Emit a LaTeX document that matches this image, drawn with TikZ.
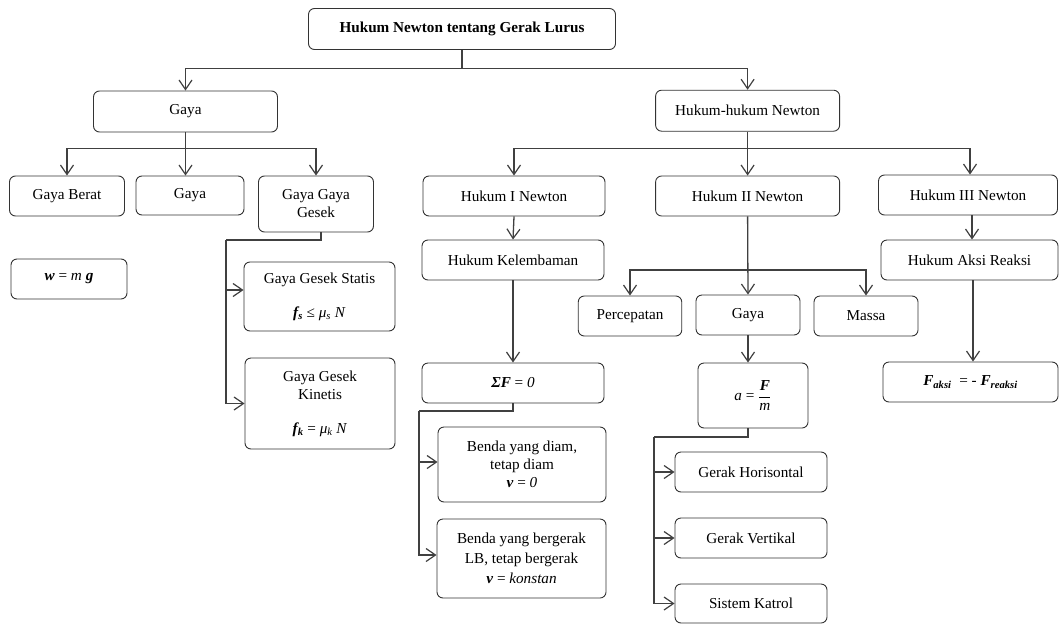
\documentclass[tikz,border=0pt]{standalone}
\usepackage{fontspec}
\setmainfont{Liberation Serif}
\usetikzlibrary{arrows.meta}
\newcommand{\bi}[1]{\textbf{\textit{#1}}}
\begin{document}
\begin{tikzpicture}[x=1pt,y=-1pt,
  box/.style={draw=black!80, line width=0.9pt, rounded corners=6pt, fill=white, align=center, inner sep=2pt, font=\fontsize{15.2}{18}\selectfont},
  sz/.style 2 args={minimum width=#1pt, minimum height=#2pt},
  conn/.style={draw=black!75, line width=1.3pt},
  arr/.style={conn, -{Straight Barb[length=9.5pt,width=13pt,line width=1.2pt]}}]
\useasboundingbox (0,0) rectangle (1059,624);

% nodes
\node[box, sz={307}{41}] (top) at (462,29) {\textbf{Hukum Newton tentang Gerak Lurus}};
\node[box, sz={184}{41}] (gaya) at (185.5,111.5) {Gaya};
\node[box, sz={184}{41}] (hhn) at (747.6,110.7) {Hukum-hukum Newton};
\node[box, sz={115}{40}] (berat) at (67,196) {Gaya Berat};
\node[box, sz={108}{39}] (gaya2) at (190,195.5) {Gaya};
\node[box, sz={115}{56}] (gesek) at (316,204) {Gaya Gaya\\Gesek};
\node[box, sz={116}{40}] (wmg) at (69,279) {\bi{w} = \textit{m} \bi{g}};
\node[box, sz={151}{69}] (statis) at (319.5,296.5) {Gaya Gesek Statis\\[16pt]\bi{f\textsubscript{s}} ≤ \textit{μ\textsubscript{s}} \textit{N}};
\node[box, sz={150}{91}] (kinetis) at (320,403.5) {Gaya Gesek\\Kinetis\\[16pt]\bi{f\textsubscript{k}} = \textit{μ\textsubscript{k}} \textit{N}};
\node[box, sz={182}{40}] (h1) at (514,196) {Hukum I Newton};
\node[box, sz={184}{40}] (h2) at (747.6,196) {Hukum II Newton};
\node[box, sz={179}{40}] (h3) at (968,195) {Hukum III Newton};
\node[box, sz={182}{40}] (kel) at (513,260) {Hukum Kelembaman};
\node[box, sz={182}{40}] (sigma) at (513,383) {\bi{ΣF} = \textit{0}};
\node[box, sz={168}{75}] (diam) at (522,464.5) {Benda yang diam,\\tetap diam\\\bi{v} = \textit{0}};
\node[box, sz={169}{79}, font=\fontsize{15.2}{20}\selectfont] (gerak) at (521.5,558.5) {Benda yang bergerak\\LB, tetap bergerak\\\bi{v} = \textit{konstan}};
\node[box, sz={103.5}{40}] (perc) at (630,316) {Percepatan};
\node[box, sz={104}{40}] (gayam) at (748,315) {Gaya};
\node[box, sz={104}{40}] (massa) at (866,316) {Massa};
\node[box, sz={110}{65}] (afm) at (753,395.5) {$\displaystyle\hbox{\textit{a} = }\frac{\hbox{\bi{F}}}{\hbox{\textit{m}}}$};
\node[box, sz={152}{40}] (hor) at (751,472) {Gerak Horisontal};
\node[box, sz={152}{40}] (vert) at (751,538) {Gerak Vertikal};
\node[box, sz={152}{39}] (kat) at (751,603.5) {Sistem Katrol};
\node[box, sz={177}{40}] (aksi) at (969.5,260) {Hukum Aksi Reaksi};
\node[box, sz={175}{40}] (faksi) at (970.5,382) {\bi{F\textsubscript{aksi}} \ = - \bi{F\textsubscript{reaksi}}};

% junctions
\coordinate (j1) at (462,68.6);
\coordinate (j2) at (185.5,148.7);
\coordinate (j3) at (226,240);
\coordinate (j4) at (747.6,148.5);
\coordinate (j5) at (748,270);
\coordinate (j6) at (419,411);
\coordinate (j7) at (654,437);

% connectors
\draw[conn] (top.south) -- (j1);
\draw[arr] (j1) -| (gaya.north);
\draw[arr] (j1) -| (hhn.north);

\draw[arr] (gaya.south) -- (gaya.south |- gaya2.north);
\draw[arr] (j2) -| (berat.north);
\draw[arr] (j2) -| (gesek.north);

\draw[conn] ([xshift=5pt]gesek.south) |- (j3);
\draw[arr] (j3) |- ([yshift=6.5pt]statis.west);
\draw[arr] (j3) |- (kinetis.west);

\draw[conn] (hhn.south) -- (j4);
\draw[arr] (j4) -| (h1.north);
\draw[arr] (j4) -- (h2.north);
\draw[arr] (j4) -| ([xshift=2pt]h3.north);

\draw[arr] (h1.south) -- (kel.north);
\draw[arr] (kel.south) -- (sigma.north);
\draw[conn] (sigma.south) |- (j6);
\draw[arr] (j6) |- ([yshift=2.5pt]diam.west);
\draw[arr] (j6) |- ([yshift=3.5pt]gerak.west);

\draw[arr] (h2.south) -- (gayam.north);
\draw[arr] (j5) -| (perc.north);
\draw[arr] (j5) -| (massa.north);
\draw[arr] (gayam.south) -- (gayam.south |- afm.north);
\draw[conn] (gayam.south |- afm.south) |- (j7);
\draw[arr] (j7) |- (hor.west);
\draw[arr] (j7) |- (vert.west);
\draw[arr] (j7) |- (kat.west);

\draw[arr] ([xshift=4pt]h3.south) -- ([xshift=4pt]h3.south |- aksi.north);
\draw[arr] ([xshift=3.5pt]aksi.south) -- ([xshift=3.5pt]aksi.south |- faksi.north);
\end{tikzpicture}
\end{document}
